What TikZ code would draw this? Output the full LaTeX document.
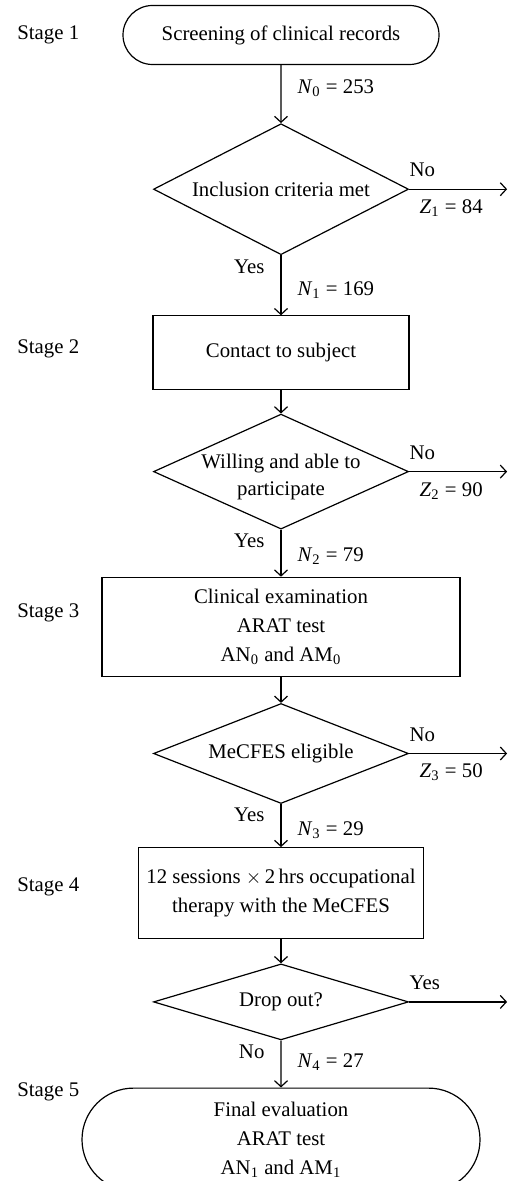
\documentclass[tikz,border=0pt]{standalone}
\usepackage{fontspec}
\setmainfont{Liberation Serif}
\usetikzlibrary{arrows.meta,positioning,shapes.geometric,shapes.misc}
\tikzset{
  base/.style={draw, line width=0.6pt, align=center, inner sep=2pt},
  terminal/.style={base, rounded rectangle},
  process/.style={base, rectangle},
  decision/.style={base, diamond, inner sep=-3pt},
  stagelabel/.style={anchor=west, inner sep=0pt},
  flow/.style={-{Straight Barb[length=3pt,width=6.5pt]}, line width=0.6pt},
  countlabel/.style={anchor=west, inner sep=0pt, xshift=8pt},
  answer/.style={pos=0, anchor=east, inner sep=0pt, xshift=-8pt, yshift=-5.5pt},
  exitup/.style={pos=0, anchor=west, inner sep=0pt, yshift=9.5pt},
  exitdown/.style={pos=0, anchor=west, inner sep=0pt, xshift=5pt, yshift=-9.5pt},
}

\begin{document}
\begin{tikzpicture}[every node/.style={font=\fontsize{10.4}{14.5}\selectfont}]
  \useasboundingbox (0,0) rectangle (255.5pt,-590.5pt);
  \node[terminal, minimum width=162pt, minimum height=29.5pt] (rec) at (140.5pt,-17.5pt) {Screening of clinical records};
  \node[decision, aspect=1.95, minimum width=127.5pt, minimum height=65.5pt, below=29pt of rec] (incl) {Inclusion criteria met};
  \node[process, minimum width=128pt, minimum height=37pt, below=30pt of incl] (contact) {Contact to subject};
  \node[decision, aspect=2.2, minimum width=127.5pt, minimum height=57.5pt, below=11.5pt of contact] (will) {\raisebox{-2.5pt}[\height][\depth]{Willing and able to}\\[-1pt]\raisebox{-2.5pt}[\height][\depth]{participate}};
  \node[process, minimum width=179pt, minimum height=49.5pt, below=23.5pt of will] (exam) {Clinical examination\\ARAT test\\AN\textsubscript{0} and AM\textsubscript{0}};
  \node[decision, aspect=2.55, minimum width=127.5pt, minimum height=50pt, below=13pt of exam] (elig) {MeCFES eligible};
  \node[process, minimum width=142.5pt, minimum height=45.5pt, below=21.5pt of elig] (ther) {12 sessions $\times$\,2\,hrs occupational\\therapy with the MeCFES};
  \node[decision, aspect=3.36, minimum width=127.5pt, minimum height=38pt, below=12pt of ther] (drop) {Drop out?};
  \node[terminal, minimum width=203pt, minimum height=51.5pt, below=23.5pt of drop] (final) {Final evaluation\\ARAT test\\AN\textsubscript{1} and AM\textsubscript{1}};

  \node[stagelabel] (s1) at (8.5pt,-17.5pt) {Stage 1};
  \node[stagelabel] (s2) at (8.5pt,-174.5pt) {Stage 2};
  \node[stagelabel] (s3) at (8.5pt,-306.5pt) {Stage 3};
  \node[stagelabel] (s4) at (8.5pt,-443.5pt) {Stage 4};
  \node[stagelabel] (s5) at (8.5pt,-546pt) {Stage 5};

  \coordinate[right=49pt of incl.east] (inclout);
  \coordinate[right=49pt of will.east] (willout);
  \coordinate[right=49pt of elig.east] (eligout);
  \coordinate[right=49pt of drop.east] (dropout);

  \draw[flow] (rec) -- node[countlabel, pos=0.4] {\textit{N}\textsubscript{0} = 253} (incl);
  \draw[flow] (incl) -- node[answer] {Yes} node[countlabel, pos=0.58] {\textit{N}\textsubscript{1} = 169} (contact);
  \draw[flow] (incl) -- node[exitup] {No} node[exitdown] {\textit{Z}\textsubscript{1} = 84} (inclout);
  \draw[flow] (contact) -- (will);
  \draw[flow] (will) -- node[answer] {Yes} node[countlabel, pos=0.57] {\textit{N}\textsubscript{2} = 79} (exam);
  \draw[flow] (will) -- node[exitup] {No} node[exitdown] {\textit{Z}\textsubscript{2} = 90} (willout);
  \draw[flow] (exam) -- (elig);
  \draw[flow] (elig) -- node[answer] {Yes} node[countlabel, pos=0.6] {\textit{N}\textsubscript{3} = 29} (ther);
  \draw[flow] (elig) -- node[exitup] {No} node[exitdown] {\textit{Z}\textsubscript{3} = 50} (eligout);
  \draw[flow] (ther) -- (drop);
  \draw[flow] (drop) -- node[answer] {No} node[countlabel, pos=0.47] {\textit{N}\textsubscript{4} = 27} (final);
  \draw[flow] (drop) -- node[exitup] {Yes} (dropout);
\end{tikzpicture}
\end{document}
